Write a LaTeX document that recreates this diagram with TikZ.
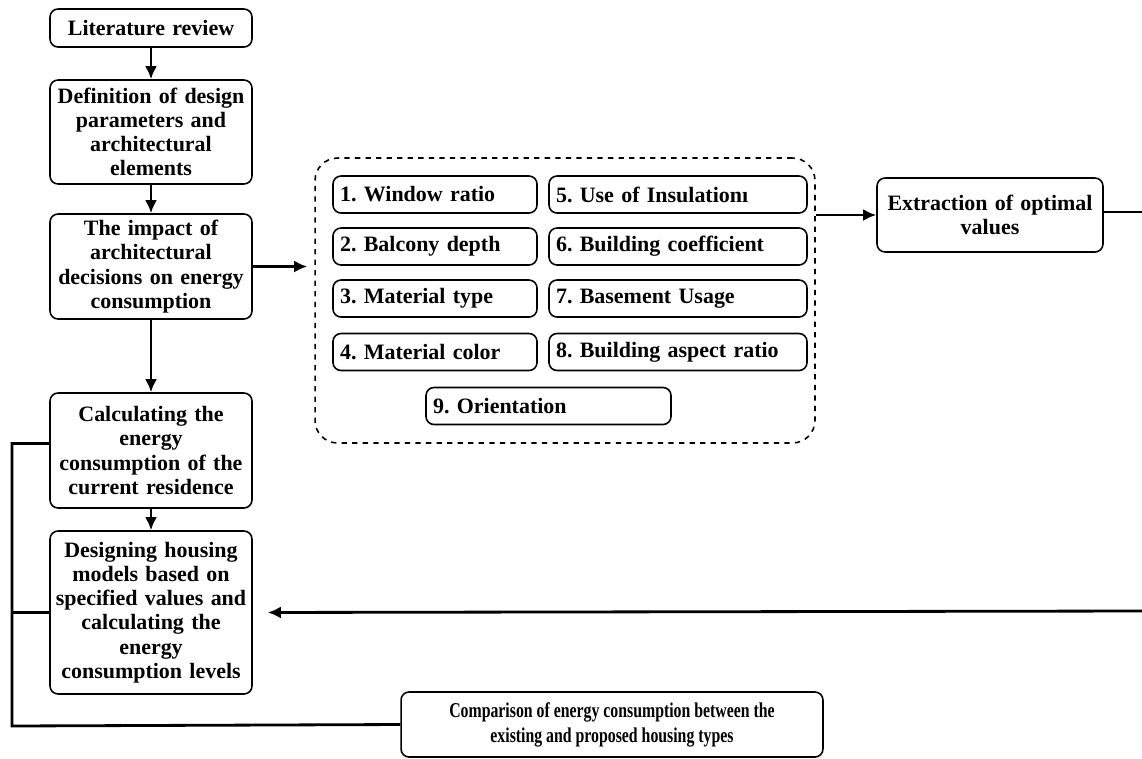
\documentclass[tikz,border=0pt]{standalone}
\usepackage{fontspec}
\setmainfont{Liberation Serif}
\newfontfamily\narrowserif[FakeStretch=0.75]{Liberation Serif}
\usetikzlibrary{arrows.meta}
\frenchspacing

\begin{document}
\begin{tikzpicture}[x=0.02cm,y=-0.02cm,stepbox/.style={shape=rectangle,draw=black,line width=0.9pt,rounded corners=0.16cm,font=\bfseries\fontsize{12.5}{13.8}\selectfont,align=center,inner sep=1pt},leftbox/.style={stepbox,minimum width=4.04cm,text width=4.02cm,inner xsep=0pt},itembox/.style={stepbox,text width=#1,align=left,inner xsep=4pt,minimum height=0.74cm},groupbox/.style={shape=rectangle,draw=black,dashed,line width=0.9pt,rounded corners=0.45cm,minimum width=10cm,minimum height=5.7cm},flow/.style={-{Latex[length=2.6mm,width=2.4mm]},line width=1.6pt},link/.style={line width=1.6pt}]
\def\xl{151};
\def\xa{435};
\def\xb{678};

\useasboundingbox (0,0) rectangle (1142,758);

\node[leftbox,minimum height=0.76cm] (lit) at (\xl,28) {Literature review};
\node[leftbox,minimum height=2.08cm] (def) at (\xl,132) {Definition of design\\ parameters and\\ architectural\\ elements};
\draw[flow] (lit.south) -- (def.north);
\node[leftbox,minimum height=2.1cm] (imp) at (\xl,266.5) {The impact of\\ architectural\\ decisions on energy\\ consumption};
\draw[flow] (def.south) -- (imp.north);
\node[leftbox,minimum height=2.3cm] (calc) at (\xl,450.5) {Calculating the\\ energy\\ consumption of the\\ current residence};
\draw[flow] (imp.south) -- (calc.north);
\node[leftbox,minimum height=3.26cm] (des) at (\xl,612.5) {Designing housing\\ models based on\\ specified values and\\ calculating the\\ energy\\ consumption levels};
\draw[flow] (calc.south) -- (des.north);

\node[groupbox] (params) at (565,300.5) {};
\draw[flow,shorten >=4pt] (imp.east) -- (imp.east -| params.west);

\node[itembox=3.8cm] (p1) at (\xa,194.5) {1. Window ratio};
\node[itembox=3.8cm] (p2) at (\xa,246.5) {2. Balcony depth};
\node[itembox=3.8cm] (p3) at (\xa,298.5) {3. Material type};
\node[itembox=3.8cm] (p4) at (\xa,352) {4. Material color};
\node[itembox=4.88cm] (p5) at (\xb,194.5) {5. Use of Insulationı};
\node[itembox=4.88cm] (p6) at (\xb,246.5) {6. Building coefficient};
\node[itembox=4.88cm] (p7) at (\xb,298.5) {7. Basement Usage};
\node[itembox=4.88cm] (p8) at (\xb,352) {8. Building aspect ratio};
\node[itembox=4.62cm] (p9) at (548.5,406) {9. Orientation};

\node[stepbox,minimum width=4.52cm,minimum height=1.48cm,text width=4.4cm] (ext) at (990,215) {Extraction of optimal\\ values};
\draw[flow] (params.east |- ext.west) -- (ext.west);

\coordinate (rE) at (1142,212);
\coordinate (rD) at (1142,611);
\draw[link] (ext.east |- rE) -- (rE);
\draw[flow,shorten >=0.3cm] (rD) -- (des.east);

\node[stepbox,minimum width=8.44cm,minimum height=1.3cm,font=\narrowserif\bfseries\fontsize{12}{14.2}\selectfont] (cmp) at (612,724.5) {Comparison of energy consumption between the\\ existing and proposed housing types};

\coordinate (fb) at (12,726);
\draw[link] ([yshift=0.14cm]calc.west) -| (fb) -- (cmp.west);
\draw[link] (des.west) -- (des.west -| fb);
\end{tikzpicture}
\end{document}
